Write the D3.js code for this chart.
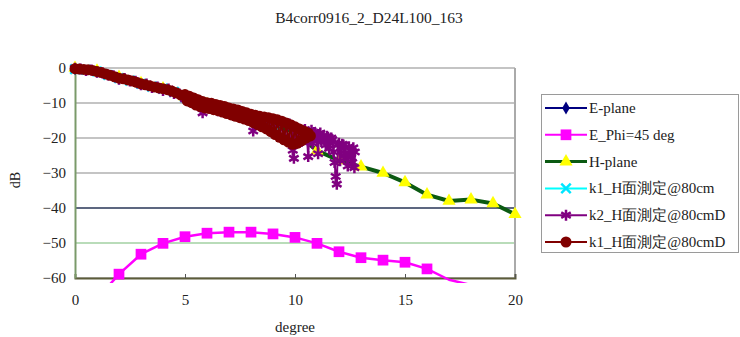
<!DOCTYPE html>
<html>
<head>
<meta charset="utf-8">
<script src="https://cdn.jsdelivr.net/npm/d3@7/dist/d3.min.js"></script>
<style>
  body { margin: 0; background: #fff; }
</style>
</head>
<body>
<script>
const title = 'B4corr0916_2_D24L100_163';
const xTicks = [0, 5, 10, 15, 20];
const yTicks = [0, -10, -20, -30, -40, -50, -60];

// E-plane (mostly hidden below the measured curves)
const ePlaneDeg = [0, 1, 2, 3, 4, 5, 6, 7, 8, 9, 10];
const ePlane = [-0.2, -1.0, -2.9, -4.5, -5.9, -8.0, -10.3, -12.4, -14.3, -16.2, -18.0];

// E_Phi=45 deg
const ePhiDeg = [1, 2, 3, 4, 5, 6, 7, 8, 9, 10, 11, 12, 13, 14, 15, 16, 17, 18];
const ePhi = [-66, -58.9, -53.2, -50.1, -48.2, -47.2, -46.9, -46.9, -47.4, -48.4, -50.1, -52.5, -54.2, -54.9, -55.5, -57.4, -60.5, -62];

// H-plane
const hDeg = [0, 1, 2, 3, 4, 5, 6, 7, 8, 9, 10, 11, 12, 13, 14, 15, 16, 17, 18, 19, 20];
const hPlane = [0, -0.8, -2.6, -4.4, -5.9, -8.2, -10.4, -12.4, -14.4, -16.4, -18.4, -23.6, -26.4, -28.2, -30.0, -32.7, -36.2, -38.0, -37.6, -38.7, -41.8];

// k1_H面測定@80cm (hidden)
const k1Deg = [0, 0.5, 1, 1.5, 2, 2.5, 3, 3.5, 4, 4.5, 5, 5.5, 6, 6.5, 7, 7.5, 8, 8.5, 9];
const k1 = [-0.3, -0.5, -1.0, -2.0, -2.9, -3.6, -4.5, -5.3, -5.9, -6.8, -8.3, -9.6, -10.4, -11.3, -12.3, -13.3, -14.3, -15.3, -16.3];

// k2_H面測定@80cmD
const k2Deg = [0, 0.25, 0.5, 0.75, 1, 1.25, 1.5, 1.75, 2, 2.25, 2.5, 2.75, 3, 3.25, 3.5, 3.75, 4, 4.25, 4.5, 4.75,
  5, 5.25, 5.5, 5.75, 5.8, 6, 6.25, 6.5, 6.75, 7, 7.25, 7.5, 7.75, 8, 8.1, 8.25, 8.5, 8.75, 9, 9.25, 9.5, 9.75,
  9.8, 9.85, 9.9, 9.95, 10.0, 10.05, 10.1, 10.15, 10.2, 10.25, 10.3, 10.35, 10.4, 10.45, 10.5, 10.55, 10.6, 10.65,
  10.7, 10.75, 10.8, 10.85, 10.9, 10.95, 11.0, 11.05, 11.1, 11.15, 11.2, 11.25, 11.3, 11.35, 11.4, 11.45, 11.5, 11.55,
  11.6, 11.65, 11.7, 11.75, 11.8, 11.85, 11.9, 11.95, 12.0, 12.05, 12.1, 12.15, 12.2, 12.25, 12.3, 12.35, 12.4, 12.45,
  12.5, 12.55, 12.6, 12.65, 12.7, 12.72];
const k2 = [-0.1, -0.3, -0.7, -0.6, -1.2, -1.4, -2.0, -2.2, -3.2, -3.0, -3.7, -3.8, -4.8, -4.6, -5.6, -5.4, -6.4, -6.0, -7.3, -7.4,
  -8.8, -8.4, -10.4, -10.0, -12.8, -10.9, -10.4, -12.2, -11.5, -13.0, -12.4, -14.0, -13.1, -15.0, -18.0, -14.2, -16.5, -14.4, -17.5, -15.2, -19.5, -16.0,
  -17.0, -20.5, -23.5, -25.8, -19.0, -17.8, -18.5, -20.0, -17.5, -19.2, -21.0, -18.0, -19.8, -17.6, -18.5, -20.5, -25.3, -19.0,
  -19.5, -17.8, -21.5, -18.4, -18.8, -20.0, -20.5, -24.5, -19.0, -18.6, -21.0, -20.0, -19.3, -21.0, -22.0, -19.5, -19.8, -23.0,
  -21.5, -20.0, -20.5, -24.0, -27.0, -31.0, -33.2, -22.0, -21.5, -26.5, -23.0, -21.8, -22.0, -25.0, -24.5, -26.0, -28.0, -22.5,
  -23.5, -25.5, -27.0, -22.8, -28.5, -24.0];

// k1_H面測定@80cmD
const k1dDeg = [0, 0.2, 0.4, 0.6, 0.8, 1.0, 1.2, 1.4, 1.6, 1.8, 2.0, 2.2, 2.4, 2.6, 2.8, 3.0, 3.2, 3.4, 3.6, 3.8, 4.0, 4.2, 4.4, 4.6, 4.8,
  5.0, 5.1, 5.2, 5.3, 5.4, 5.5, 5.6, 5.7, 5.8, 5.9, 6.0, 6.1, 6.2, 6.3, 6.4, 6.5, 6.6, 6.7, 6.8, 6.9, 7.0, 7.1, 7.2, 7.3, 7.4,
  7.5, 7.6, 7.7, 7.8, 7.9, 8.0, 8.1, 8.2, 8.3, 8.4, 8.5, 8.6, 8.7, 8.8, 8.9, 9.0, 9.1, 9.2, 9.3, 9.4, 9.5, 9.6, 9.7, 9.8, 9.9,
  10.0, 10.1, 10.2, 10.3, 10.4, 10.5, 10.6, 10.7];
const k1d = [-0.2, -0.3, -0.4, -0.5, -0.7, -1.0, -1.3, -1.7, -2.1, -2.5, -2.9, -3.1, -3.4, -3.7, -4.1, -4.5, -4.8, -5.1, -5.4, -5.7, -5.9, -6.2, -6.6, -7.1, -7.7,
  -7.6, -9.4, -8.1, -9.9, -8.6, -10.6, -9.1, -11.0, -9.6, -11.4, -9.9, -11.6, -10.1, -11.9, -10.4, -12.2, -10.7, -12.6, -11.0, -13.0, -11.4, -13.4, -11.7, -13.8, -12.0,
  -14.2, -12.4, -14.6, -12.8, -15.0, -13.2, -15.6, -13.5, -16.2, -13.8, -16.8, -14.0, -17.4, -14.2, -18.2, -14.5, -19.0, -14.8, -19.8, -15.2, -20.5, -15.7, -21.2, -16.2, -21.8,
  -16.8, -21.5, -17.4, -20.8, -18.0, -20.0, -18.6, -19.4];

const width = 740;
const height = 337;
const plot = { left: 75, right: 515, top: 68, bottom: 278 };
const serif = '"Liberation Serif", "Times New Roman", serif';

const svg = d3.select('body')
  .append('svg')
  .attr('width', width)
  .attr('height', height)
  .style('font-family', serif);

svg.append('rect')
  .attr('width', width)
  .attr('height', height)
  .attr('fill', '#fff');

const x = d3.scaleLinear().domain([0, 20]).range([plot.left, plot.right]);
const y = d3.scaleLinear().domain([-60, 0]).range([plot.bottom, plot.top]);

// title
svg.append('text')
  .attr('x', 369)
  .attr('y', 23)
  .attr('text-anchor', 'middle')
  .attr('fill', '#222')
  .style('font-family', serif)
  .style('font-size', '15.5px')
  .text(title);

// gridlines
const gridColor = d => d === -40 ? '#5d6780' : d === -50 ? '#b9dcb9' : '#c4c4c4';
svg.append('g')
  .selectAll('line')
  .data(yTicks)
  .join('line')
  .attr('x1', plot.left)
  .attr('x2', plot.right)
  .attr('y1', d => y(d))
  .attr('y2', d => y(d))
  .attr('stroke', gridColor)
  .attr('stroke-width', 2);

// right border of the plot area
svg.append('line')
  .attr('x1', plot.right).attr('x2', plot.right)
  .attr('y1', plot.top).attr('y2', plot.bottom)
  .attr('stroke', '#aaa')
  .attr('stroke-width', 2);

// axes
const xAxis = d3.axisBottom(x).tickValues(xTicks).tickSize(-4).tickPadding(16);
const yAxis = d3.axisLeft(y).tickValues(yTicks).tickSize(0).tickPadding(9);

const gx = svg.append('g')
  .attr('transform', `translate(0,${plot.bottom})`)
  .call(xAxis);
gx.select('.domain').attr('stroke', '#5c5c3a').attr('stroke-width', 2);
gx.selectAll('.tick line').attr('stroke', '#555');

const gy = svg.append('g')
  .attr('transform', `translate(${plot.left},0)`)
  .call(yAxis);
gy.select('.domain').attr('stroke', '#7a9a6a').attr('stroke-width', 2);

svg.selectAll('.tick text')
  .style('font-family', serif)
  .style('font-size', '15px')
  .attr('fill', '#222');

svg.append('text')
  .attr('x', 295)
  .attr('y', 332)
  .attr('text-anchor', 'middle')
  .attr('fill', '#222')
  .style('font-family', serif)
  .style('font-size', '15px')
  .text('degree');

svg.append('text')
  .attr('transform', 'translate(20,180) rotate(-90)')
  .attr('text-anchor', 'middle')
  .attr('fill', '#222')
  .style('font-family', serif)
  .style('font-size', '14px')
  .text('dB');

// series
svg.append('clipPath')
  .attr('id', 'plotclip')
  .append('rect')
  .attr('x', plot.left)
  .attr('y', plot.top - 10)
  .attr('width', plot.right - plot.left + 10)
  .attr('height', plot.bottom - plot.top + 15);

const series = [
  { name: 'E-plane', deg: ePlaneDeg, val: ePlane, line: '#000080', lw: 2, sym: d3.symbolDiamond, size: 50, fill: '#000080', stroke: 'none' },
  { name: 'E_Phi=45 deg', deg: ePhiDeg, val: ePhi, line: '#ff00ff', lw: 2.5, sym: d3.symbolSquare, size: 115, fill: '#ff00ff', stroke: 'none' },
  { name: 'H-plane', deg: hDeg, val: hPlane, line: '#0b5a12', lw: 4, sym: d3.symbolTriangle, size: 75, fill: '#ffff00', stroke: 'none' },
  { name: 'k1_H面測定@80cm', deg: k1Deg, val: k1, line: '#00ffff', lw: 2, sym: d3.symbolTimes, size: 60, fill: 'none', stroke: '#00e5ff' },
  { name: 'k2_H面測定@80cmD', deg: k2Deg, val: k2, line: '#800080', lw: 2, sym: d3.symbolAsterisk, size: 85, fill: 'none', stroke: '#800080' },
  { name: 'k1_H面測定@80cmD', deg: k1dDeg, val: k1d, line: '#800000', lw: 2, sym: d3.symbolCircle, size: 95, fill: '#800000', stroke: 'none' }
];

const line = d3.line()
  .x(d => x(d[0]))
  .y(d => y(d[1]));

series.forEach(s => {
  const pts = s.deg.map((d, i) => [d, s.val[i]]);
  const g = svg.append('g');

  g.append('path')
    .attr('d', line(pts))
    .attr('clip-path', 'url(#plotclip)')
    .attr('fill', 'none')
    .attr('stroke', s.line)
    .attr('stroke-width', s.lw)
    .attr('stroke-linejoin', 'round');

  g.selectAll('path.mark')
    .data(pts.filter(p => p[1] >= -60))
    .join('path')
    .attr('class', 'mark')
    .attr('transform', p => `translate(${x(p[0])},${y(p[1])})`)
    .attr('d', d3.symbol(s.sym, s.size))
    .attr('fill', s.fill)
    .attr('stroke', s.stroke)
    .attr('stroke-width', 2.5);
});

// legend
const legend = svg.append('g');
legend.append('rect')
  .attr('x', 541.5)
  .attr('y', 94.5)
  .attr('width', 197)
  .attr('height', 158)
  .attr('fill', '#fff')
  .attr('stroke', '#9a9a9a');

const rowY = d3.scalePoint().domain(series.map(s => s.name)).range([108, 242]);

series.forEach(s => {
  const ly = rowY(s.name);
  legend.append('line')
    .attr('x1', 545).attr('x2', 587)
    .attr('y1', ly).attr('y2', ly)
    .attr('stroke', s.line)
    .attr('stroke-width', s.lw > 3 ? 3 : 2);
  legend.append('path')
    .attr('transform', `translate(566,${ly})`)
    .attr('d', d3.symbol(s.sym, s.size))
    .attr('fill', s.fill)
    .attr('stroke', s.stroke)
    .attr('stroke-width', 2.5);
  legend.append('text')
    .attr('x', 589)
    .attr('y', ly + 5)
    .attr('fill', '#222')
    .style('font-family', serif)
    .style('font-size', '15px')
    .text(s.name);
});
</script>
</body>
</html>
